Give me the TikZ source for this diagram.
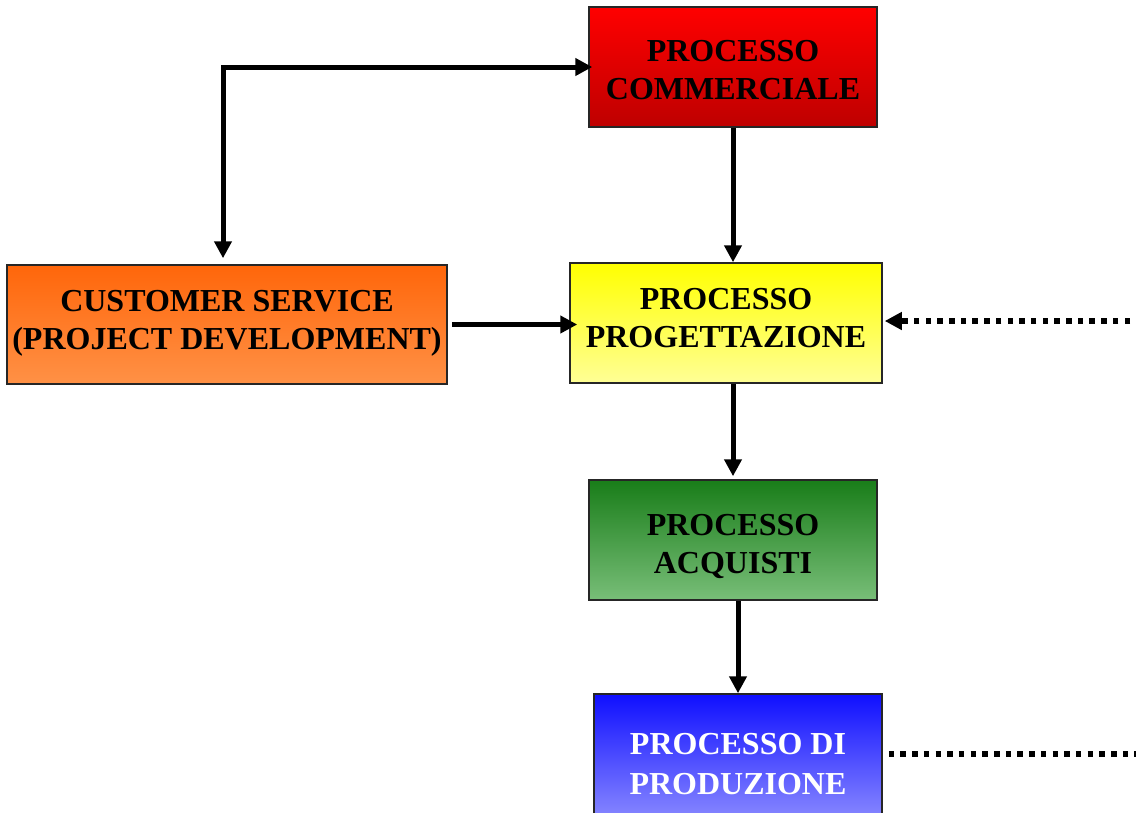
\documentclass[tikz,border=0pt]{standalone}
\usepackage{fontspec}
\setmainfont{Liberation Serif}
\usetikzlibrary{arrows.meta,calc}
\definecolor{redT}{RGB}{255,0,0}
\definecolor{redB}{RGB}{190,0,0}
\definecolor{oraT}{RGB}{255,102,10}
\definecolor{oraB}{RGB}{255,145,70}
\definecolor{yelT}{RGB}{255,255,0}
\definecolor{yelB}{RGB}{255,255,150}
\definecolor{greT}{RGB}{25,125,25}
\definecolor{greB}{RGB}{120,190,120}
\definecolor{bluT}{RGB}{15,15,255}
\definecolor{bluB}{RGB}{135,135,255}
\tikzset{
  box/.style={draw=black!85, line width=1.5pt, rectangle, inner sep=0pt},
  boxtext/.style={inner sep=0pt, align=center,
    font=\bfseries\fontsize{32}{38}\selectfont, text=black},
  arr/.style={line width=5pt, -{Triangle[length=17pt,width=17pt]}},
  dotline/.style={line width=5.3pt, dash pattern=on 5.5pt off 6.2pt},
  dotarr/.style={dotline, -{Triangle[length=17pt,width=17pt]}}
}
\begin{document}
\begin{tikzpicture}[x=1pt,y=-1pt]
\useasboundingbox (0,0) rectangle (1136,812);
\node[box, minimum width=288pt, minimum height=120pt, top color=redT, bottom color=redB] (comm) at (733,67) {};
\node[box, minimum width=440pt, minimum height=119pt, top color=oraT, bottom color=oraB] (cust) at (227,324.5) {};
\node[box, minimum width=312pt, minimum height=120pt, top color=yelT, bottom color=yelB] (prog) at (726,323) {};
\node[box, minimum width=288pt, minimum height=120pt, top color=greT, bottom color=greB] (acq) at (733,540) {};
\node[box, minimum width=288pt, minimum height=124pt, top color=bluT, bottom color=bluB] (prod) at (738,756) {};
\node[boxtext] (commT) at ($(comm.center)+(0,3)$) {PROCESSO\\COMMERCIALE};
\node[boxtext] (custT) at ($(cust.center)+(0,-1)$) {CUSTOMER SERVICE\\(PROJECT DEVELOPMENT)};
\node[boxtext] (progT) at ($(prog.center)+(0,-5)$) {PROCESSO\\PROGETTAZIONE};
\node[boxtext] (acqT) at ($(acq.center)+(0,6)$) {PROCESSO\\ACQUISTI};
\node[boxtext, text=white, font=\bfseries\fontsize{32}{40.5}\selectfont] (prodT) at ($(prod.center)+(0,8)$) {PROCESSO DI\\PRODUZIONE};
\coordinate (c) at (223,67);
\coordinate (d1) at (1130,321);
\coordinate (d2) at (1136,754);
\draw[arr, {Triangle[length=17pt,width=17pt]}-{Triangle[length=17pt,width=17pt]}]
  ($(cust.north -| c)+(0,-6)$) -- (c) -- ($(comm.west |- c)+(4,0)$);
\draw[arr] (comm.south) -- (comm.south |- prog.north);
\draw[arr] ($(cust.east)+(4,0)$) -- ($(cust.east -| prog.west)+(8,0)$);
\draw[arr] (acq.north |- prog.south) -- ($(acq.north)+(0,-3)$);
\draw[arr] (prod.north |- acq.south) -- (prod.north);
\draw[dotarr] (d1) -- ($(prog.east |- d1)+(2,0)$);
\draw[dotline] ($(prod.east |- d2)+(6,0)$) -- (d2);
\end{tikzpicture}
\end{document}
